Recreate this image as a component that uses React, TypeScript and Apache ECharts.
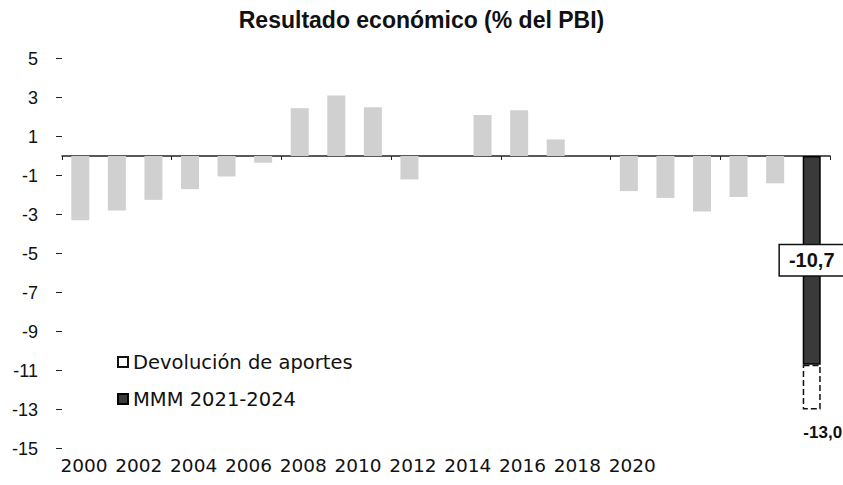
import React, { useEffect, useRef } from "react";
import * as echarts from "echarts";

const categories = [
  "2000", "2001", "2002", "2003", "2004", "2005", "2006", "2007", "2008", "2009",
  "2010", "2011", "2012", "2013", "2014", "2015", "2016", "2017", "2018", "2019", "2021-2024",
];
const historyValues = [
  -3.3, -2.8, -2.25, -1.7, -1.05, -0.35, 2.45, 3.1, 2.5, -1.2,
  0, 2.1, 2.35, 0.85, 0, -1.8, -2.15, -2.85, -2.1, -1.4, null,
];
const mmmValues = [
  null, null, null, null, null, null, null, null, null, null,
  null, null, null, null, null, null, null, null, null, null, -10.7,
];
const devolucionValues = [
  null, null, null, null, null, null, null, null, null, null,
  null, null, null, null, null, null, null, null, null, null, -2.3,
];
const yearTickLabels = ["2000", "2002", "2004", "2006", "2008", "2010", "2012", "2014", "2016", "2018", "2020"];

const totalValues = mmmValues.map((v, i) =>
  v == null ? null : v + (devolucionValues[i] ?? 0)
);
const fmt = (v: number) => v.toFixed(1).replace(".", ",");

const SANS = "Liberation Sans, Arial, sans-serif";
const WIDE = "DejaVu Sans, sans-serif";

export default function App() {
  const ref = useRef<HTMLDivElement>(null);
  useEffect(() => {
    if (!ref.current) return;
    const chart = echarts.init(ref.current, null, { renderer: "svg" });
    chart.setOption({
      animation: false,
      backgroundColor: "#ffffff",
      title: {
        text: "Resultado económico (% del PBI)",
        left: "center",
        top: 3,
        textStyle: { fontFamily: SANS, fontSize: 23, fontWeight: "bold", color: "#111" },
      },
      legend: {
        orient: "vertical",
        left: 117,
        top: 352,
        itemWidth: 10,
        itemHeight: 10,
        itemGap: 17,
        padding: 0,
        icon: "rect",
        data: ["Devolución de aportes", "MMM 2021-2024"],
        textStyle: { fontFamily: WIDE, fontSize: 19.5, color: "#111" },
      },
      grid: [
        { left: 62, right: 13, top: 58.5, bottom: 36.5 },
        { left: 56.6, width: 603, top: 440, height: 10 },
      ],
      xAxis: [
        {
          type: "category",
          gridIndex: 0,
          data: categories,
          axisLine: { lineStyle: { color: "#222", width: 1.5 } },
          axisTick: { show: true, length: 4, lineStyle: { color: "#222" } },
          axisLabel: { show: false },
        },
        {
          type: "category",
          gridIndex: 1,
          data: yearTickLabels,
          axisLine: { show: false, onZero: false },
          axisTick: { show: false },
          axisLabel: { interval: 0, margin: 6, fontFamily: WIDE, fontSize: 18.5, color: "#111" },
        },
      ],
      yAxis: [
        {
          type: "value",
          gridIndex: 0,
          min: -15,
          max: 5,
          interval: 2,
          axisLine: { show: false },
          axisTick: { show: true, length: 6, lineStyle: { color: "#222" } },
          splitLine: { show: false },
          axisLabel: { margin: 24, fontFamily: SANS, fontSize: 18, color: "#111" },
        },
        { type: "value", gridIndex: 1, show: false },
      ],
      series: [
        {
          name: "Resultado",
          type: "bar",
          stack: "total",
          xAxisIndex: 0,
          yAxisIndex: 0,
          barWidth: 18,
          data: historyValues,
          itemStyle: { color: "#d0d0d0" },
        },
        {
          name: "MMM 2021-2024",
          type: "bar",
          stack: "total",
          xAxisIndex: 0,
          yAxisIndex: 0,
          barWidth: 18,
          data: mmmValues,
          itemStyle: { color: "#3a3a3a", borderColor: "#000", borderWidth: 1.5 },
          label: {
            show: true,
            position: "inside",
            formatter: (p: any) => fmt(p.value),
            fontFamily: SANS,
            fontSize: 20,
            fontWeight: "bold",
            color: "#111",
            backgroundColor: "#ffffff",
            borderColor: "#111",
            borderWidth: 1.5,
            padding: [5, 9],
          },
        },
        {
          name: "Devolución de aportes",
          type: "bar",
          stack: "total",
          xAxisIndex: 0,
          yAxisIndex: 0,
          barWidth: 18,
          data: devolucionValues,
          itemStyle: { color: "#ffffff", borderColor: "#111", borderWidth: 1.5, borderType: "dashed" },
          label: {
            show: true,
            position: "bottom",
            distance: 14,
            offset: [11, 0],
            formatter: (p: any) => {
              const t = totalValues[p.dataIndex];
              return t == null ? "" : fmt(t);
            },
            fontFamily: SANS,
            fontSize: 17,
            fontWeight: "bold",
            color: "#111",
          },
        },
      ],
    });
    return () => chart.dispose();
  }, []);
  return (
    <div
      ref={ref}
      style={{ position: "absolute", left: 0, top: 0, width: 843, height: 485 }}
    />
  );
}
